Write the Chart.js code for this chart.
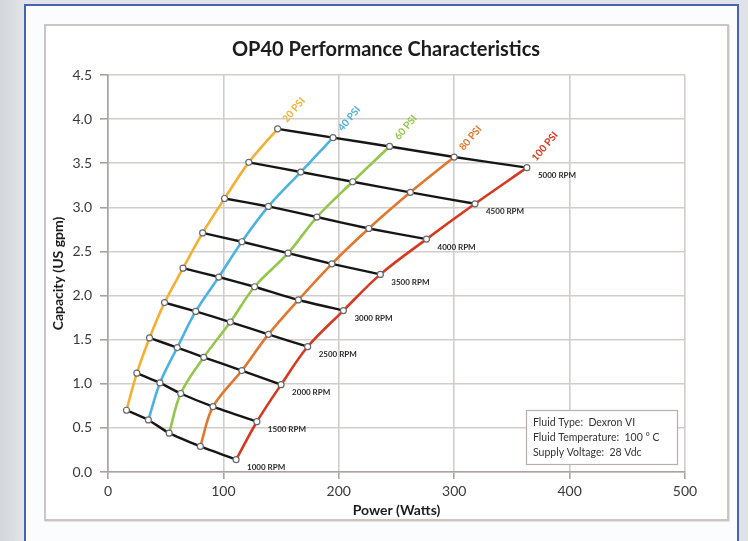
<!DOCTYPE html>
<html>
<head>
<meta charset="utf-8">
<script src="https://cdn.jsdelivr.net/npm/chart.js@4"></script>
<style>
  html, body { margin: 0; padding: 0; }
  body { width: 748px; height: 541px; overflow: hidden; background: #dfe2e6; position: relative; }
  #leftStrip { position: absolute; left: 0; top: 0; width: 24px; height: 541px; background: linear-gradient(90deg, #d3d6da, #e3e5e8); }
  #outer { position: absolute; left: 24px; top: 4px; width: 711px; height: 545px; border: 2px solid #4763ad; background: #fbfcfd; }
  #inner { position: absolute; left: 44px; top: 24px; width: 681px; height: 493px; border: 2px solid #cbc6c4; background: #ffffff; box-shadow: 1px 1px 0 #e4e0de; }
  #myChart { position: absolute; left: 0; top: 0; }
</style>
</head>
<body>
<div id="leftStrip"></div>
<div id="outer"></div>
<div id="inner"></div>
<canvas id="myChart" width="748" height="541"></canvas>
<script>
// RPM steps (bottom to top of each pressure curve)
const rpmLabels = ['1000 RPM', '1500 RPM', '2000 RPM', '2500 RPM', '3000 RPM', '3500 RPM', '4000 RPM', '4500 RPM', '5000 RPM'];
const psiLabels = ['20 PSI', '40 PSI', '60 PSI', '80 PSI', '100 PSI'];
const psiColors = ['#f3b032', '#4db2e2', '#93c74b', '#e1772c', '#d5391f'];

// power (Watts) and capacity (US gpm) per pressure, one value per RPM step
const power20 = [16, 25, 36, 49, 65, 82, 101, 122, 147];
const flow20 = [0.70, 1.12, 1.52, 1.92, 2.31, 2.71, 3.10, 3.51, 3.89];
const power40 = [35, 45, 60, 76, 96, 116, 139, 167, 195];
const flow40 = [0.59, 1.01, 1.41, 1.82, 2.21, 2.61, 3.01, 3.40, 3.79];
const power60 = [53, 63, 83, 106, 127, 156, 181, 212, 244];
const flow60 = [0.44, 0.89, 1.30, 1.70, 2.10, 2.48, 2.89, 3.29, 3.69];
const power80 = [80, 91, 116, 139, 165, 194, 226, 262, 300];
const flow80 = [0.29, 0.74, 1.15, 1.56, 1.95, 2.36, 2.76, 3.17, 3.57];
const power100 = [111, 129, 150, 173, 204, 236, 276, 318, 363];
const flow100 = [0.14, 0.57, 0.99, 1.42, 1.83, 2.24, 2.64, 3.04, 3.45];

const xTicks = [0, 100, 200, 300, 400, 500];
const yTicks = [0, 0.5, 1, 1.5, 2, 2.5, 3, 3.5, 4, 4.5];
const noteLines = ['Fluid Type:  Dexron VI', 'Fluid Temperature:  100 \u00B0 C', 'Supply Voltage:  28 Vdc'];

const powers = [power20, power40, power60, power80, power100];
const flows = [flow20, flow40, flow60, flow80, flow100];

const datasets = [];
// colored pressure curves
psiLabels.forEach((label, i) => {
  datasets.push({
    label: label,
    data: powers[i].map((p, j) => ({ x: p, y: flows[i][j] })),
    showLine: true,
    borderColor: psiColors[i],
    borderWidth: 2.6,
    tension: 0.35,
    pointRadius: 0,
    order: 2
  });
});
// black RPM lines across the pressures
rpmLabels.forEach((label, j) => {
  datasets.push({
    label: label,
    data: powers.map((p, i) => ({ x: p[j], y: flows[i][j] })),
    showLine: true,
    borderColor: '#161616',
    borderWidth: 2.4,
    tension: 0.15,
    pointRadius: 3,
    pointBackgroundColor: '#ffffff',
    pointBorderColor: '#6a6a6a',
    pointBorderWidth: 1.2,
    order: 1
  });
});

const labelPlugin = {
  id: 'labelPlugin',
  afterDatasetsDraw(chart) {
    const c = chart.ctx;
    const xs = chart.scales.x, ys = chart.scales.y;
    c.save();
    // RPM labels next to the 100 PSI end
    c.font = 'bold 8px Lato';
    c.fillStyle = '#2b2b2b';
    c.textAlign = 'left';
    c.textBaseline = 'middle';
    rpmLabels.forEach((label, j) => {
      const px = xs.getPixelForValue(power100[j]);
      const py = ys.getPixelForValue(flow100[j]);
      c.fillText(label, px + 11, py + 8);
    });
    // PSI labels above the 5000 RPM end
    c.font = 'bold 10px Lato';
    psiLabels.forEach((label, i) => {
      const px = xs.getPixelForValue(powers[i][8]);
      const py = ys.getPixelForValue(flows[i][8]);
      c.save();
      c.translate(px + 7, py - 8);
      c.rotate(-50 * Math.PI / 180);
      c.fillStyle = psiColors[i];
      c.fillText(label, 0, 0);
      c.restore();
    });
    c.restore();
  },
  afterDraw(chart) {
    const c = chart.ctx;
    c.save();
    // chart title
    c.font = 'bold 20px Lato';
    c.fillStyle = '#1c1c1c';
    c.textAlign = 'center';
    c.textBaseline = 'middle';
    c.fillText('OP40 Performance Characteristics', 386, 50);
    // note box
    c.fillStyle = '#ffffff';
    c.fillRect(526, 410, 151, 54);
    c.strokeStyle = '#b5afad';
    c.lineWidth = 1.2;
    c.strokeRect(526.5, 410.5, 151, 54);
    c.font = '10.5px Lato';
    c.fillStyle = '#333333';
    c.textAlign = 'left';
    noteLines.forEach((t, k) => c.fillText(t, 533, 423 + k * 15));
    c.restore();
  }
};

const ctx = document.getElementById('myChart').getContext('2d');

const myChart = new Chart(ctx, {
  type: 'scatter',
  data: { datasets: datasets },
  options: {
    responsive: false,
    animation: false,
    layout: { padding: { left: 0, right: 63, top: 75, bottom: 0 } },
    plugins: {
      legend: { display: false },
      tooltip: { enabled: false },
      title: { display: false }
    },
    scales: {
      x: {
        type: 'linear',
        min: 0,
        max: 500,
        afterBuildTicks: (scale) => { scale.ticks = xTicks.map(v => ({ value: v })); },
        afterFit: (scale) => { scale.height = 69; },
        ticks: { color: '#3a3a3a', font: { family: 'Lato', size: 14 }, padding: 4, maxRotation: 0 },
        grid: { color: '#d2cdcb', lineWidth: 1.6, tickLength: 7, tickColor: '#a9a3a1' },
        border: { color: '#a9a3a1', width: 1.6 },
        title: { display: true, text: 'Power (Watts)', color: '#1c1c1c', font: { family: 'Lato', size: 14, weight: 'bold' }, padding: { top: 0, bottom: 22 } }
      },
      y: {
        type: 'linear',
        min: 0,
        max: 4.5,
        afterBuildTicks: (scale) => { scale.ticks = yTicks.map(v => ({ value: v })); },
        afterFit: (scale) => { scale.width = 108; },
        ticks: { color: '#3a3a3a', font: { family: 'Lato', size: 14 }, padding: 8, callback: (v) => v.toFixed(1) },
        grid: { color: '#d2cdcb', lineWidth: 1.6, tickLength: 8, tickColor: '#a9a3a1' },
        border: { color: '#a9a3a1', width: 1.6 },
        title: { display: true, text: 'Capacity (US gpm)', color: '#1c1c1c', font: { family: 'Lato', size: 14, weight: 'bold' }, padding: { top: 50, bottom: 0 } }
      }
    }
  },
  plugins: [labelPlugin]
});
</script>
</body>
</html>
